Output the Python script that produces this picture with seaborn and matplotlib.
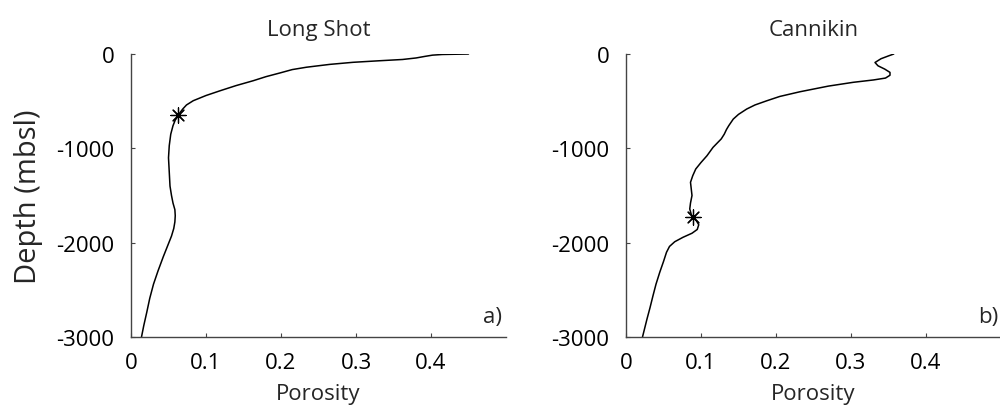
import matplotlib
matplotlib.use("Agg")
import matplotlib.pyplot as plt
import seaborn as sns
import pandas as pd

# Long Shot profile (porosity, depth in m below sea level)
ls_porosity = [0.450, 0.435, 0.415, 0.402, 0.392, 0.380, 0.362, 0.330, 0.296, 0.265,
               0.234, 0.215, 0.199, 0.180, 0.163, 0.140, 0.119, 0.100, 0.083, 0.074,
               0.069, 0.065, 0.063, 0.059, 0.056, 0.053, 0.051, 0.050, 0.051, 0.052,
               0.054, 0.056, 0.0585, 0.059, 0.0585, 0.057, 0.054, 0.050, 0.043, 0.036,
               0.030, 0.025, 0.021, 0.017, 0.014]
ls_depth = [0, -2, -5, -12, -25, -42, -58, -72, -88, -110,
            -140, -165, -200, -240, -283, -335, -389, -440, -495, -540,
            -583, -625, -655, -700, -760, -850, -972, -1100, -1250, -1400,
            -1500, -1580, -1650, -1714, -1780, -1850, -1930, -2010, -2150, -2300,
            -2440, -2590, -2739, -2880, -3000]
ls_marker = (0.063, -650)

# Cannikin profile
ck_porosity = [0.357, 0.350, 0.340, 0.332, 0.336, 0.345, 0.352, 0.352, 0.346, 0.330,
               0.303, 0.270, 0.232, 0.205, 0.188, 0.172, 0.161, 0.150, 0.143, 0.137,
               0.134, 0.131, 0.127, 0.116, 0.108, 0.100, 0.093, 0.089, 0.086, 0.087,
               0.088, 0.086, 0.085, 0.087, 0.089, 0.094, 0.097, 0.095, 0.088, 0.076,
               0.065, 0.058, 0.054, 0.050, 0.045, 0.040, 0.036, 0.032, 0.028, 0.022]
ck_depth = [0, -20, -50, -90, -125, -160, -195, -225, -255, -275,
            -300, -340, -400, -450, -495, -540, -583, -640, -690, -760,
            -800, -850, -900, -990, -1078, -1150, -1219, -1290, -1360, -1430,
            -1500, -1580, -1643, -1700, -1731, -1770, -1810, -1860, -1900, -1943,
            -1990, -2040, -2102, -2200, -2314, -2440, -2562, -2690, -2809, -3000]
ck_marker = (0.089, -1730)

titles = ["Long Shot", "Cannikin"]
panel_labels = ["a)", "b)"]
x_ticks = [0, 0.1, 0.2, 0.3, 0.4]
x_tick_labels = ["0", "0.1", "0.2", "0.3", "0.4"]
y_ticks = [0, -1000, -2000, -3000]
y_tick_labels = ["0", "-1000", "-2000", "-3000"]

sns.set_style("ticks")
plt.rcParams["font.family"] = ["Open Sans", "DejaVu Sans"]

fig = plt.figure(figsize=(10, 4.06), dpi=100)
ax1 = fig.add_axes([0.131, 0.1675, 0.375, 0.697])
ax2 = fig.add_axes([0.626, 0.1675, 0.375, 0.697])

profiles = [
    (ax1, ls_porosity, ls_depth, ls_marker),
    (ax2, ck_porosity, ck_depth, ck_marker),
]

for i, (ax, por, dep, mk) in enumerate(profiles):
    df = pd.DataFrame({"Porosity": por, "Depth": dep})
    sns.lineplot(data=df, x="Porosity", y="Depth", sort=False, estimator=None,
                 color="black", linewidth=1.1, ax=ax)
    mdf = pd.DataFrame({"Porosity": [mk[0]], "Depth": [mk[1]]})
    sns.scatterplot(data=mdf, x="Porosity", y="Depth", marker=(8, 2, 0), s=120,
                    color="black", linewidth=0.9, ax=ax, zorder=5)
    ax.set_xlim(0, 0.5)
    ax.set_ylim(-3000, 0)
    ax.set_xticks(x_ticks)
    ax.set_xticklabels(x_tick_labels)
    ax.set_yticks(y_ticks)
    ax.set_yticklabels(y_tick_labels)
    ax.tick_params(direction="in", length=3, width=0.8, labelsize=16,
                   colors="#444444", labelcolor="black")
    ax.tick_params(axis="x", pad=11)
    ax.tick_params(axis="y", pad=12)
    for s in ["top", "right"]:
        ax.spines[s].set_visible(False)
    for s in ["left", "bottom"]:
        ax.spines[s].set_color("#444444")
        ax.spines[s].set_linewidth(1.0)
    ax.set_title(titles[i], fontsize=16, pad=14)
    ax.set_xlabel("Porosity", fontsize=16, labelpad=7)
    ax.set_ylabel("")
    ax.text(0.965, 0.074, panel_labels[i], transform=ax.transAxes,
            ha="center", va="center", fontsize=16)

ax1.set_ylabel("Depth (mbsl)", fontsize=21)
ax1.yaxis.set_label_coords(-0.235, 0.5)

fig.savefig("out.png", dpi=100)
